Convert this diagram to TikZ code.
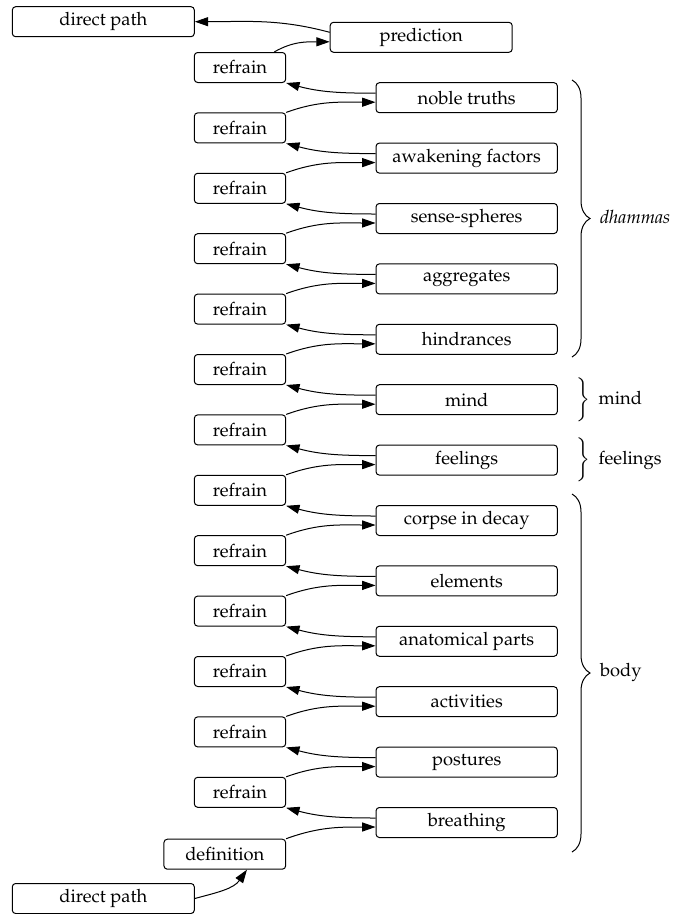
\documentclass[tikz,border=0pt]{standalone}
\usepackage[T1]{fontenc}
\usepackage{mathpazo}
\usetikzlibrary{arrows.meta}
\usetikzlibrary{decorations.pathreplacing}

\tikzset{
    box/.style={draw, rounded corners=2pt, minimum height=18pt, inner sep=0pt},
    refbox/.style={box, minimum width=54.8pt},
    topicbox/.style={box, minimum width=108.8pt},
    arr/.style={-{Triangle[length=8pt,width=5.4pt]}},
    brc/.style={decorate, decoration={brace, amplitude=10.8pt}},
}

\begin{document}
\begin{tikzpicture}[x=0.6pt, y=0.6pt, line width=0.6pt, font=\fontsize{11}{13}\selectfont]
    \useasboundingbox (0,0) rectangle (677,-914);

    % ends of the chain
    \node[box, minimum width=109.2pt] (dpTop) at (103.3,-21.7) {direct path};
    \node[box, minimum width=109.2pt] (pred) at (421.2,-37.3) {prediction};
    \node[box, minimum width=73pt] (def) at (224.8,-854.2) {definition};
    \node[box, minimum width=109.2pt] (dpBot) at (103.3,-898.5) {direct path};

    % refrains and topics
    \foreach \lab [count=\k] in {noble truths, awakening factors, sense-spheres, aggregates, hindrances, mind, feelings, corpse in decay, elements, anatomical parts, activities, postures, breathing} {
        \node[refbox] (r\k) at (240,{-37.3-30.2*(2*\k-1)}) {refrain};
        \node[topicbox] (s\k) at (466.7,{-37.3-30.2*(2*\k)}) {\lab};
    }

    % arrows
    \draw[arr] (dpBot.east) to[out=15,in=-125] (def.-35);
    \draw[arr] (def.north east) to[out=20,in=180] ([yshift=-2.7pt]s13.west);
    \foreach \k in {1,...,13} {
        \draw[arr] ([yshift=2.7pt]s\k.west) to[out=180,in=-15] (r\k.south east);
    }
    \foreach \k [evaluate=\k as \j using int(\k+1)] in {1,...,12} {
        \draw[arr] (r\j.north east) to[out=20,in=180] ([yshift=-2.7pt]s\k.west);
    }
    \draw[arr] ([xshift=-7.2pt]r1.north east) to[out=30,in=180] ([yshift=-2.7pt]pred.west);
    \draw[arr] ([yshift=3pt]pred.west) to[out=165,in=0] (dpTop.east);

    % braces
    \draw[brc] (572,-80) -- (572,-357);
    \node[anchor=west] (dham) at (594,-217) {\textit{dhammas}};
    \node[anchor=west] (mindlab) at (570,-399.7) {$\bigg\}$\hspace{5pt}mind};
    \node[anchor=west] (feellab) at (570,-460.1) {$\bigg\}$\hspace{5pt}feelings};
    \draw[brc] (572,-494) -- (572,-852);
    \node[anchor=west] (bodylab) at (594,-672) {body};
\end{tikzpicture}
\end{document}
